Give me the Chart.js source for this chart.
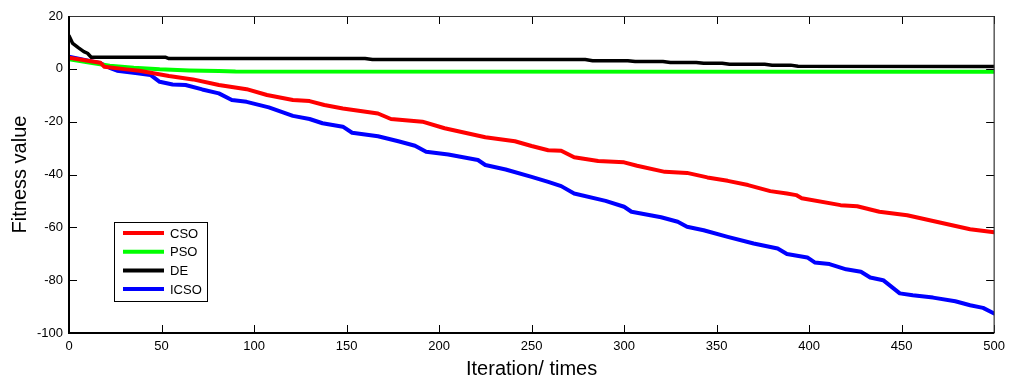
<!DOCTYPE html>
<html>
<head>
<meta charset="utf-8">
<script src="https://cdn.jsdelivr.net/npm/chart.js@4"></script>
<style>
  html, body { margin: 0; padding: 0; background: #fff; }
  #wrap { width: 1011px; height: 381px; }
</style>
</head>
<body>
<div id="wrap"><canvas id="myChart" width="1011" height="381"></canvas></div>
<script>
// values
const csoIter = [0, 17, 19, 31, 38, 54, 67, 81, 96, 107, 121, 130, 138, 148, 167, 174, 191, 203, 214, 225, 241, 250, 259, 266, 273, 286, 300, 307, 322, 334, 345, 356, 367, 379, 388, 393, 396, 417, 426, 438, 453, 470, 487, 500];
const csoVal = [4.2, 2.3, 0.8, -0.2, -0.7, -2.7, -4, -6.1, -7.7, -9.9, -11.8, -12.2, -13.7, -15, -16.9, -19, -20, -22.5, -24.2, -25.9, -27.4, -29.2, -30.8, -31, -33.5, -34.9, -35.4, -36.7, -39, -39.4, -41.1, -42.4, -44, -46.3, -47.2, -47.8, -49, -51.6, -52, -54.1, -55.4, -58.1, -60.7, -61.9];

const psoIter = [0, 10, 22, 35, 49, 65, 81, 90, 500];
const psoVal = [3.6, 2.5, 1.2, 0.4, -0.2, -0.6, -0.8, -1.0, -1.1];

const deIter = [0, 2, 5, 8, 10, 12, 52, 54, 160, 164, 279, 283, 302, 306, 321, 325, 339, 343, 353, 357, 376, 380, 390, 394, 500];
const deVal = [12.5, 9.6, 8, 6.5, 5.9, 4.4, 4.4, 3.9, 3.9, 3.5, 3.5, 3.1, 3.1, 2.8, 2.8, 2.4, 2.4, 2.1, 2.1, 1.7, 1.7, 1.4, 1.4, 1.0, 0.9];

const icsoIter = [0, 13, 17, 22, 26, 37, 44, 49, 56, 63, 72, 81, 88, 96, 108, 121, 130, 137, 148, 153, 167, 178, 187, 193, 205, 221, 225, 236, 250, 259, 266, 273, 290, 300, 304, 320, 329, 334, 343, 356, 370, 383, 388, 399, 403, 411, 420, 428, 433, 440, 449, 456, 467, 479, 487, 494, 500];
const icsoVal = [4.6, 2.7, 2.1, 0.4, -0.7, -1.7, -2.3, -4.9, -5.9, -6.1, -7.8, -9.3, -11.8, -12.5, -14.6, -17.8, -19, -20.6, -21.9, -24.2, -25.5, -27.4, -29.1, -31.4, -32.4, -34.5, -36.4, -38.1, -40.9, -42.8, -44.4, -47.2, -50, -52.2, -54.1, -56.2, -57.9, -59.8, -61.1, -63.6, -66.1, -68, -70.1, -71.4, -73.3, -73.9, -75.9, -76.8, -79, -80, -85, -85.7, -86.6, -88, -89.5, -90.5, -92.6];

const seriesNames = ['CSO', 'PSO', 'DE', 'ICSO'];
const seriesColors = ['#ff0000', '#00ff00', '#000000', '#0000ff'];

function pts(xs, ys) {
    return xs.map((x, i) => ({ x: x, y: ys[i] }));
}

const FONT = 'Helvetica, Arial, "Liberation Sans", sans-serif';

// box round the plot with inward ticks on all four sides
const framePlugin = {
    id: 'frame',
    afterDatasetsDraw(chart) {
        const ctx = chart.ctx;
        const a = chart.chartArea;
        const xs = chart.scales.x, ys = chart.scales.y;
        const len = 8;
        ctx.save();
        ctx.strokeStyle = '#000';
        ctx.lineWidth = 1;
        xs.ticks.forEach(t => {
            const px = Math.round(xs.getPixelForValue(t.value)) + 0.5;
            ctx.beginPath();
            ctx.moveTo(px, a.bottom); ctx.lineTo(px, a.bottom - len);
            ctx.moveTo(px, a.top); ctx.lineTo(px, a.top + len);
            ctx.stroke();
        });
        ys.ticks.forEach(t => {
            const py = Math.round(ys.getPixelForValue(t.value)) + 0.5;
            ctx.beginPath();
            ctx.moveTo(a.left, py); ctx.lineTo(a.left + len, py);
            ctx.moveTo(a.right, py); ctx.lineTo(a.right - len, py);
            ctx.stroke();
        });
        ctx.lineWidth = 1.2;
        ctx.strokeStyle = '#333';
        ctx.beginPath();
        ctx.moveTo(a.left, a.top + 0.5); ctx.lineTo(a.right, a.top + 0.5);
        ctx.moveTo(a.right, a.top); ctx.lineTo(a.right, a.bottom);
        ctx.stroke();
        ctx.lineWidth = 2;
        ctx.strokeStyle = '#000';
        ctx.beginPath();
        ctx.moveTo(a.left, a.top); ctx.lineTo(a.left, a.bottom);
        ctx.lineTo(a.right, a.bottom);
        ctx.stroke();

        // legend box
        const bx = a.left + 45, by = a.top + 206, bw = 93, bh = 79;
        ctx.fillStyle = '#fff';
        ctx.fillRect(bx, by, bw, bh);
        ctx.lineWidth = 1;
        ctx.strokeStyle = '#000';
        ctx.strokeRect(bx + 0.5, by + 0.5, bw, bh);
        ctx.font = '13px ' + FONT;
        ctx.textBaseline = 'middle';
        chart.data.datasets.forEach((ds, i) => {
            const ly = by + 11 + i * 18.7;
            ctx.strokeStyle = ds.borderColor;
            ctx.lineWidth = 4;
            ctx.beginPath();
            ctx.moveTo(bx + 9, ly); ctx.lineTo(bx + 50, ly);
            ctx.stroke();
            ctx.fillStyle = '#000';
            ctx.fillText(ds.label, bx + 56, ly + 1);
        });
        ctx.restore();
    }
};

const ctx = document.getElementById('myChart').getContext('2d');

const chart = new Chart(ctx, {
    type: 'line',
    data: {
        datasets: [
            { label: seriesNames[0], data: pts(csoIter, csoVal), borderColor: seriesColors[0] },
            { label: seriesNames[1], data: pts(psoIter, psoVal), borderColor: seriesColors[1] },
            { label: seriesNames[2], data: pts(deIter, deVal), borderColor: seriesColors[2], borderWidth: 3.5 },
            { label: seriesNames[3], data: pts(icsoIter, icsoVal), borderColor: seriesColors[3] }
        ]
    },
    options: {
        responsive: false,
        animation: false,
        layout: { padding: { top: 16, right: 13, left: 0, bottom: 0 } },
        elements: {
            point: { radius: 0 },
            line: { borderWidth: 4, tension: 0, fill: false, borderJoinStyle: 'round', borderCapStyle: 'round' }
        },
        plugins: {
            legend: { display: false },
            tooltip: { enabled: false }
        },
        scales: {
            x: {
                type: 'linear',
                position: 'bottom',
                min: 0,
                max: 500,
                grid: { display: false, drawTicks: false },
                border: { display: false },
                ticks: { stepSize: 50, color: '#000', padding: 6, font: { size: 13, family: FONT }, maxRotation: 0 },
                title: { display: true, text: 'Iteration/ times', color: '#000', font: { size: 20, family: FONT }, padding: { top: 0, bottom: 0 } },
                afterFit(scale) { scale.height = 48; }
            },
            y: {
                min: -100,
                max: 20,
                grid: { display: false, drawTicks: false },
                border: { display: false },
                ticks: { stepSize: 20, color: '#000', padding: 6, font: { size: 13, family: FONT } },
                title: { display: true, text: 'Fitness value', color: '#000', font: { size: 20, family: FONT }, padding: { top: 8, bottom: 0 } },
                afterFit(scale) { scale.width = 69; }
            }
        }
    },
    plugins: [framePlugin]
});
</script>
</body>
</html>
